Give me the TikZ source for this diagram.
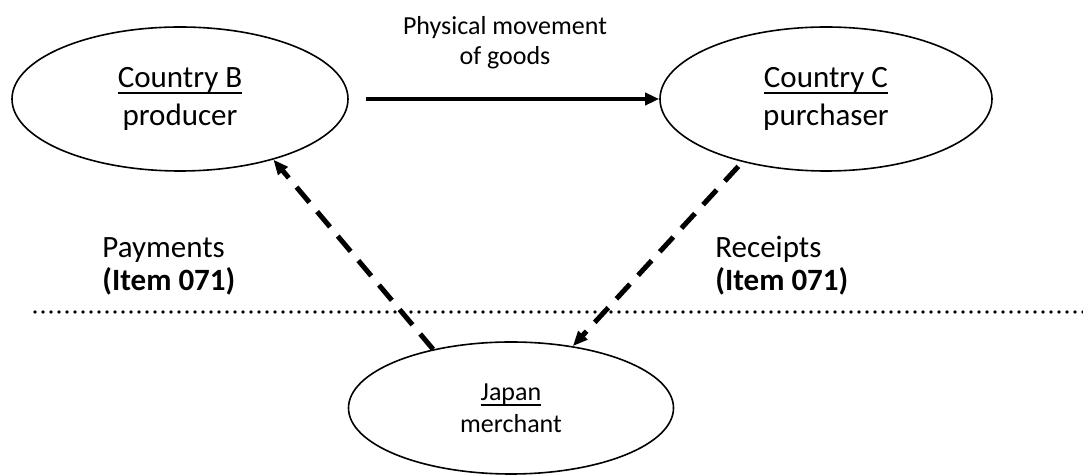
\documentclass[tikz,border=0pt]{standalone}
\usepackage{fontspec}
\setmainfont{Carlito}
\newcommand{\uln}[1]{\setbox0\hbox{#1}\rlap{\vrule height -0.14em depth 0.21em width \wd0}\box0}
\usetikzlibrary{shapes.geometric,arrows.meta}
\begin{document}
\begin{tikzpicture}[x=0.5pt,y=-0.5pt, every node/.style={font=\fontsize{15.5}{19}\selectfont,inner sep=0pt},
  country/.style={draw,ellipse,line width=0.8pt,align=center},
  goods/.style={line width=2pt,-{Triangle[length=7pt,width=6pt]}},
  pay/.style={line width=2.5pt,dash pattern=on 10pt off 6pt,-{Triangle[length=7.5pt,width=6pt]}},
  item/.style={anchor=west,align=left,font=\fontsize{15.5}{16.5}\selectfont}]
  \useasboundingbox (0,0) rectangle (1083,475);
  \node[country,minimum width=168pt,minimum height=72pt] (cb) at (180,99) {\uln{Country B}\\producer};
  \node[country,minimum width=166pt,minimum height=72pt] (cc) at (826,99) {\uln{Country C}\\purchaser};
  \node[country,minimum width=162.5pt,minimum height=66pt,font=\fontsize{13}{16}\selectfont] (jp) at (511,408) {\uln{Japan}\\merchant};
  \node[align=center,font=\fontsize{13}{15}\selectfont] (mv) at (505,43) {Physical movement\\of goods};
  \node[item] (pm) at (102,266) {Payments\\\textbf{(Item 071)}};
  \node[item] (rc) at (715,266) {Receipts\\\textbf{(Item 071)}};
  \draw[line width=1.8pt,line cap=round,dash pattern=on 0pt off 4pt] (35,312) -- (1083,312);
  \draw[goods,shorten <=8.5pt] (cb.east) -- (cc.west);
  \draw[pay] (jp.143.7) -- (cb.-33);
  \draw[pay,shorten <=3pt] (cc.-143.7) -- (jp.45.4);
\end{tikzpicture}
\end{document}
